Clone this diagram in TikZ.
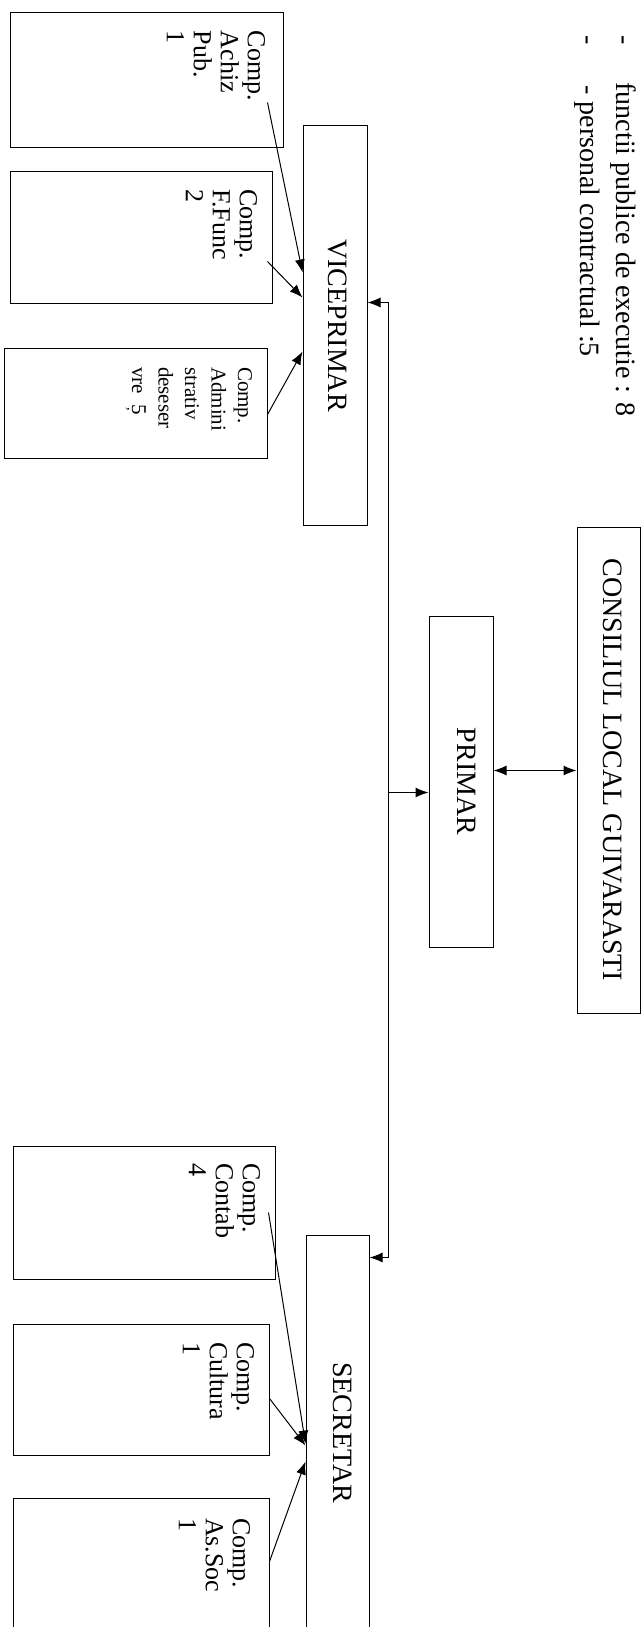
\documentclass[tikz,border=0pt]{standalone}
\usepackage{fontspec}
\setmainfont{Liberation Serif}
\usetikzlibrary{calc,arrows.meta}

\begin{document}
\begin{tikzpicture}[x=1pt, y=-1pt, >={Latex[length=13pt,width=10pt]}, line width=1pt,
        box/.style={draw, inner sep=0pt},
        title/.style={rotate=-90, inner sep=0pt, font=\fontsize{28}{30}\selectfont},
        comp/.style={rotate=-90, anchor=north west, align=left, inner sep=0pt, font=\fontsize{26}{27}\selectfont},
        note/.style={rotate=-90, anchor=base west, inner sep=0pt, font=\fontsize{28}{30}\selectfont}]
        \useasboundingbox (0,0) rectangle (643,1627);

        \node[note] (dash1) at (616.5,35) {-};
        \node[note] (dash2) at (580.5,35) {-};
        \node[note] (functii) at (616.5,82) {functii publice de executie : 8};
        \node[note] (personal) at (580.5,85) {- personal contractual :5};

        \node[box, minimum width=63pt, minimum height=486pt] (consiliu) at (608.5,770) {};
        \node[title] (consiliutext) at ($(consiliu.center)+(4,0)$) {CONSILIUL LOCAL GUIVARASTI};
        \node[box, minimum width=64pt, minimum height=331pt] (primar) at (461,781.5) {};
        \node[title] (primartext) at ($(primar.center)+(6,0)$) {PRIMAR};
        \node[box, minimum width=64pt, minimum height=399pt] (vice) at (335,325.5) {};
        \node[title] (vicetext) at ($(vice.center)+(3,0)$) {VICEPRIMAR};
        \node[box, minimum width=63pt, minimum height=425pt] (secr) at (337.5,1447.5) {};
        \node[title] (secrtext) at ($(secr.north)+(5,198)$) {SECRETAR};

        \node[box, minimum width=273pt, minimum height=134pt] (achiz) at (146.5,80) {};
        \node[comp] (achiztext) at ($(achiz.north east)+(-18,18)$) {Comp.\\Achiz\\Pub.\\1};
        \node[box, minimum width=262pt, minimum height=132pt] (ffunc) at (141,237) {};
        \node[comp] (ffunctext) at ($(ffunc.north east)+(-15,18)$) {Comp.\\F.Func\\2};
        \node[box, minimum width=263pt, minimum height=110pt] (admin) at (135.5,403) {};
        \node[comp, font=\fontsize{21}{26.5}\selectfont] (admintext) at ($(admin.north east)+(-15,19)$)
            {Comp.\\Admini\\strativ\\deseser\\vre\enspace\makebox[0pt][l]{\hspace{0.15em}\raisebox{-0.2em}{\fontsize{14}{14}\selectfont,}}5};

        \node[box, minimum width=262pt, minimum height=133pt] (contab) at (144,1212.5) {};
        \node[comp] (contabtext) at ($(contab.north east)+(-15,17)$) {Comp.\\Contab\\4};
        \node[box, minimum width=256pt, minimum height=131pt] (cultura) at (141,1389.5) {};
        \node[comp] (culturatext) at ($(cultura.north east)+(-15,18)$) {Comp.\\Cultura\\1};
        \node[box, minimum width=256pt, minimum height=162pt] (assoc) at (141,1579) {};
        \node[comp] (assoctext) at ($(assoc.north east)+(-19,20)$) {Comp.\\As.Soc\\1};

        \coordinate (cl) at ($(primar.north east)+(0,155)$);
        \draw[<->] (cl) -- (consiliu.west |- cl);

        \coordinate (spinetop) at ($(vice.north east)+(21,177)$);
        \coordinate (spinebot) at ($(secr.north east)+(19,23)$);
        \coordinate (spinemid) at ($(primar.north west)+(-41,177)$);
        \draw[<->] (vice.east |- spinetop) -- (spinetop) -- (spinebot) -- (secr.east |- spinebot);
        \draw[->] (spinemid) -- (primar.west |- spinemid);

        \coordinate (achizout) at ($(achiz.north east)+(-16,90)$);
        \coordinate (ffuncout) at ($(ffunc.north east)+(-5,91)$);
        \coordinate (adminout) at ($(admin.north east)+(0,67)$);
        \draw[->] (achizout) -- ($(vice.north west)+(0,147)$);
        \draw[->] (ffuncout) -- ($(vice.north west)+(0,172)$);
        \draw[->] (adminout) -- ($(vice.north west)+(0,226)$);

        \coordinate (contabout) at ($(contab.north east)+(-7,67)$);
        \coordinate (culturaout) at ($(cultura.north east)+(0,75)$);
        \coordinate (assocout) at ($(assoc.north east)+(0,64)$);
        \draw[->] (contabout) -- ($(secr.north west)+(0,209)$);
        \draw[->] (culturaout) -- ($(secr.north west)+(0,211)$);
        \draw[->] (assocout) -- ($(secr.north west)+(0,227)$);
    \end{tikzpicture}
\end{document}
